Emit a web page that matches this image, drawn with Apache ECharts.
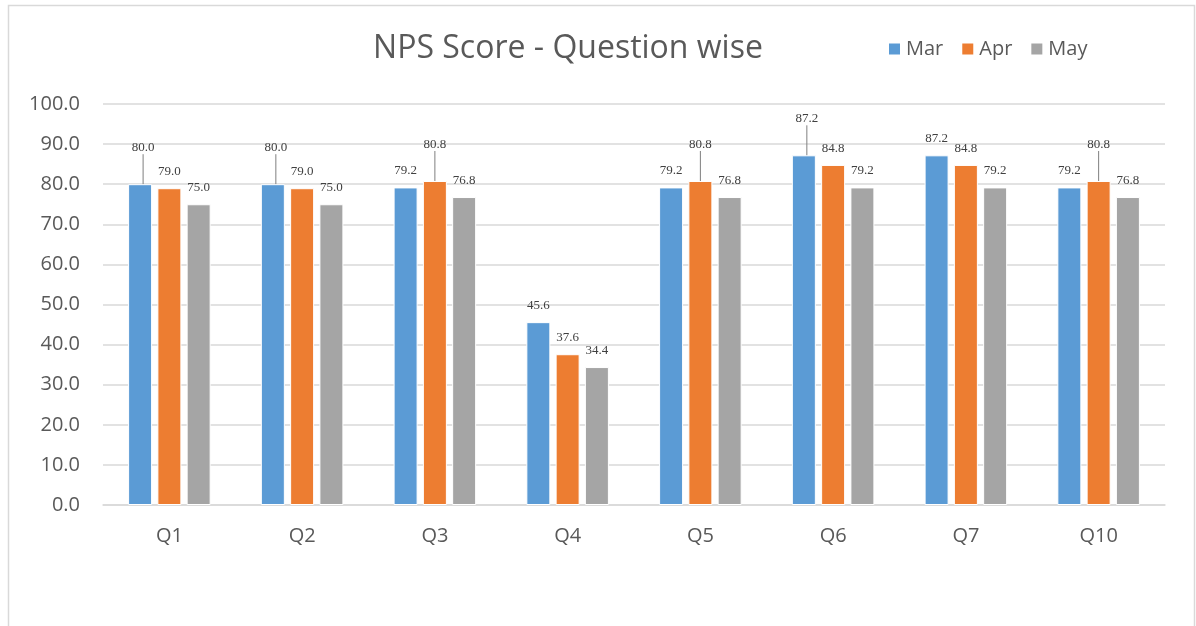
<!DOCTYPE html>
<html>
<head>
<meta charset="utf-8">
<script src="https://cdn.jsdelivr.net/npm/echarts@6/dist/echarts.min.js"></script>
<style>
  html, body { margin: 0; padding: 0; background: #fff; }
  #chart { width: 1196px; height: 626px; }
</style>
</head>
<body>
<div id="chart"></div>
<script>
var questions = ['Q1', 'Q2', 'Q3', 'Q4', 'Q5', 'Q6', 'Q7', 'Q10'];
var marScores = [80.0, 80.0, 79.2, 45.6, 79.2, 87.2, 87.2, 79.2];
var aprScores = [79.0, 79.0, 80.8, 37.6, 80.8, 84.8, 84.8, 80.8];
var mayScores = [75.0, 75.0, 76.8, 34.4, 76.8, 79.2, 79.2, 76.8];
var yTicks = [0, 10, 20, 30, 40, 50, 60, 70, 80, 90, 100];

// labels that were pulled up with a leader line: [series, question]
var leaderLabels = [['Mar', 'Q1'], ['Mar', 'Q2'], ['Apr', 'Q3'], ['Apr', 'Q5'], ['Mar', 'Q6'], ['Apr', 'Q10']];

function hasLeader(name, idx) {
    for (var i = 0; i < leaderLabels.length; i++) {
        if (leaderLabels[i][0] == name && leaderLabels[i][1] == questions[idx]) return true;
    }
    return false;
}

function makeSeries(name, values, color) {
    var items = values.map(function (v, i) {
        if (hasLeader(name, i)) return { value: v, labelLine: { show: true } };
        return v;
    });
    return {
        name: name,
        type: 'bar',
        barWidth: 24,
        barGap: '22%',
        itemStyle: { color: color, borderColor: '#ffffff', borderWidth: 1 },
        label: {
            show: true,
            position: 'top',
            distance: 10,
            fontFamily: 'Liberation Serif',
            fontSize: 13,
            color: '#404040',
            formatter: function (p) { return p.value.toFixed(1); }
        },
        labelLayout: function (p) {
            if (!hasLeader(name, p.dataIndex)) return {};
            var r = p.rect, lr = p.labelRect;
            var dx = name == 'Mar' ? 3 : 0, dy = -20;
            var cx = lr.x + lr.width / 2 + dx;
            return {
                dx: dx,
                dy: dy,
                labelLinePoints: [
                    [r.x + r.width / 2 + (dx ? -3 : 0), r.y],
                    [cx, lr.y + lr.height + dy + 2],
                    [cx, lr.y + lr.height + dy + 2]
                ]
            };
        },
        labelLine: { show: false, lineStyle: { color: '#7f7f7f', width: 1 } },
        data: items
    };
}

var myChart = echarts.init(document.getElementById('chart'));
var option = {
    backgroundColor: '#ffffff',
    animation: false,
    title: {
        text: 'NPS Score - Question wise',
        left: 563,
        top: 28,
        textAlign: 'center',
        textStyle: { fontFamily: 'Open Sans', fontWeight: 'normal', fontSize: 32, color: '#595959' }
    },
    legend: {
        data: ['Mar', 'Apr', 'May'],
        left: 882,
        top: 34,
        icon: 'rect',
        itemWidth: 13,
        itemHeight: 13,
        itemGap: 17,
        textStyle: { fontFamily: 'Open Sans', fontSize: 20, color: '#595959' }
    },
    graphic: [{
        type: 'rect',
        shape: { x: 8.5, y: 5.5, width: 1186, height: 700 },
        style: { fill: 'none', stroke: '#d9d9d9', lineWidth: 1.5 },
        silent: true
    }],
    grid: { left: 103, right: 31, top: 104, bottom: 121 },
    xAxis: {
        type: 'category',
        data: questions,
        axisTick: { show: false },
        axisLine: { lineStyle: { color: '#d9d9d9', width: 1.5 } },
        axisLabel: { margin: 21, fontFamily: 'Open Sans', fontSize: 20, color: '#595959' }
    },
    yAxis: {
        type: 'value',
        min: yTicks[0],
        max: yTicks[yTicks.length - 1],
        interval: yTicks[1] - yTicks[0],
        axisLine: { show: false },
        axisTick: { show: false },
        splitLine: { lineStyle: { color: '#d9d9d9', width: 1.5 } },
        axisLabel: {
            margin: 23,
            fontFamily: 'Open Sans',
            fontSize: 20,
            color: '#595959',
            formatter: function (v) { return v.toFixed(1); }
        }
    },
    series: [
        makeSeries('Mar', marScores, '#5b9bd5'),
        makeSeries('Apr', aprScores, '#ed7d31'),
        makeSeries('May', mayScores, '#a5a5a5')
    ]
};
myChart.setOption(option);
</script>
</body>
</html>
